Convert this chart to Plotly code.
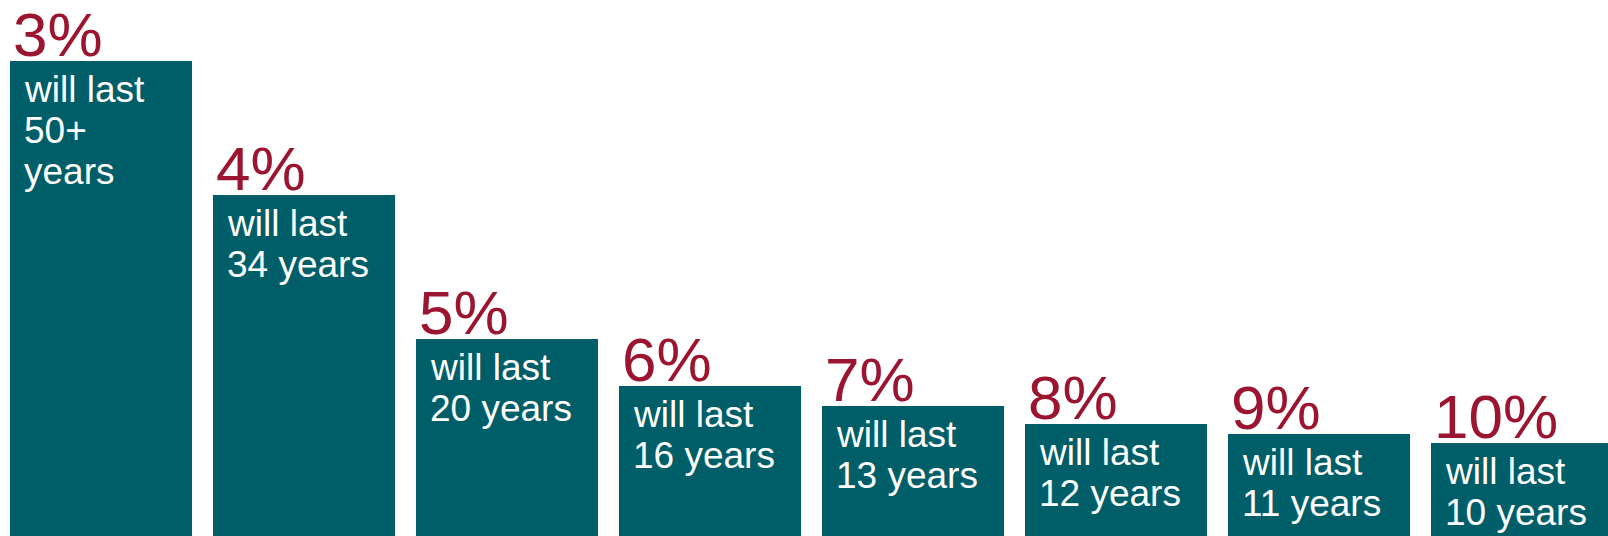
import plotly.graph_objects as go

# data
pct_labels = ["3%", "4%", "5%", "6%", "7%", "8%", "9%", "10%"]
bar_text = [["will last", "50+", "years"], ["will last", "34 years"], ["will last", "20 years"],
            ["will last", "16 years"], ["will last", "13 years"], ["will last", "12 years"],
            ["will last", "11 years"], ["will last", "10 years"]]
bar_values = [50.0, 35.9, 20.7, 15.8, 13.7, 11.8, 10.7, 9.8]

TEAL = "#005E69"
RED = "#9B1430"
FONT = "Arial"
BAR_W = 0.8966
LINE_H = 41

xs = list(range(len(bar_values)))

fig = go.Figure()
fig.add_trace(go.Bar(x=xs, y=bar_values, width=BAR_W, marker=dict(color=TEAL, line=dict(width=0)),
                     hoverinfo="skip"))

annotations = []
for i, (v, p, lines) in enumerate(zip(bar_values, pct_labels, bar_text)):
    left = i - BAR_W / 2
    annotations.append(dict(x=left, y=v, xref="x", yref="y", text=p, showarrow=False,
                            xanchor="left", yanchor="bottom", xshift=1, yshift=-10,
                            font=dict(family=FONT, size=62, color=RED)))
    for k, line in enumerate(lines):
        annotations.append(dict(x=left, y=v, xref="x", yref="y", text=line, showarrow=False,
                                xanchor="left", yanchor="top", xshift=12, yshift=-6 - LINE_H * k,
                                align="left",
                                font=dict(family=FONT, size=37, color="white")))

fig.update_layout(
    width=1608, height=536,
    margin=dict(l=0, r=0, t=0, b=0),
    paper_bgcolor="white", plot_bgcolor="white",
    showlegend=False,
    bargap=0,
    xaxis=dict(range=[-0.4975, 7.424], visible=False, fixedrange=True),
    yaxis=dict(range=[0, 56.42], visible=False, fixedrange=True),
    annotations=annotations,
)

fig.write_html("out.html")
